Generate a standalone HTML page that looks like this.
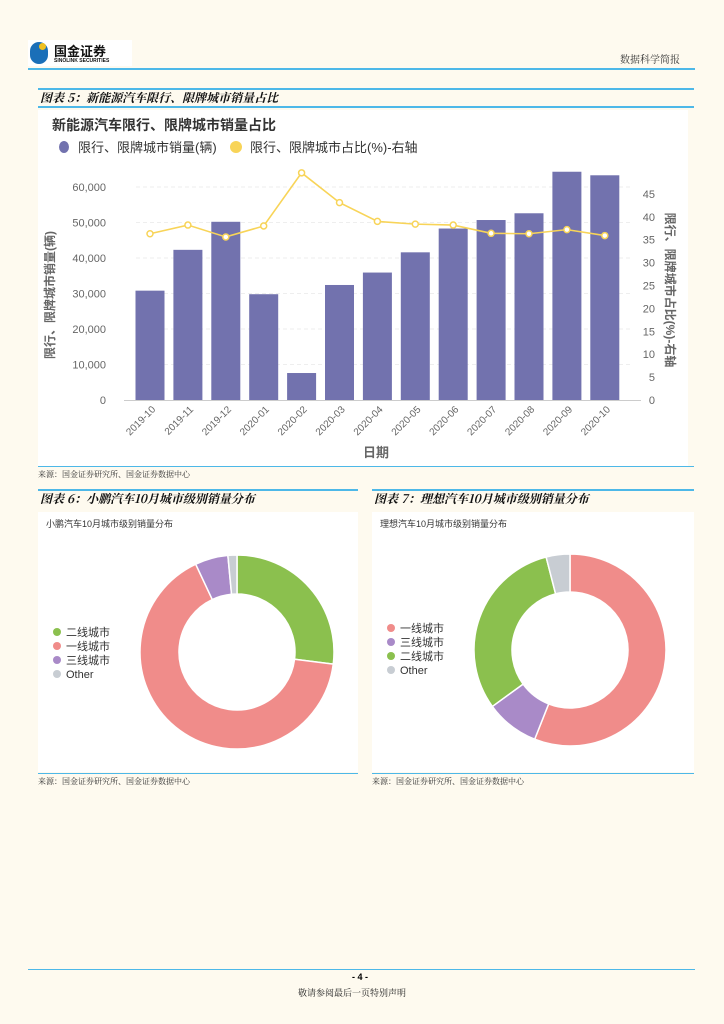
<!DOCTYPE html>
<html><head><meta charset="utf-8">
<style>
body{margin:0;background:#fefaef;font-family:"Liberation Sans","Noto Sans CJK SC",sans-serif;}
#page{position:relative;width:724px;height:1024px;overflow:hidden;background:#fefaef;}
.abs{position:absolute;}
.hl{position:absolute;height:2px;background:#4db8e8;}
.ttl{position:absolute;font-family:"Noto Serif CJK SC","Liberation Serif",serif;font-style:italic;font-weight:bold;font-size:12px;color:#111;}
.src{position:absolute;font-family:"Noto Serif CJK SC",serif;font-size:8px;color:#333;}
</style></head><body>
<div id="page">
<div class="abs" style="left:28px;top:40px;width:104px;height:26px;background:#fff;">
 <div class="abs" style="left:2px;top:2px;width:18px;height:22px;border-radius:9px;background:#1a6fb8;"></div>
 <div class="abs" style="left:11px;top:3px;width:7px;height:7px;border-radius:4px;background:#f0c020;"></div>
 <div class="abs" style="left:26px;top:1px;font-size:13px;font-weight:bold;color:#111;">国金证券</div>
 <div class="abs" style="left:26px;top:18px;font-size:5px;font-weight:bold;color:#111;">SINOLINK SECURITIES</div>
</div>
<div class="abs" style="left:620px;top:51px;font-size:10px;color:#333;font-family:'Noto Serif CJK SC',serif;">数据科学简报</div>
<div class="hl" style="left:28px;top:68px;width:667px;"></div>

<div class="hl" style="left:38px;top:88px;width:656px;"></div>
<div class="ttl" style="left:40px;top:89px;">图表 5：新能源汽车限行、限牌城市销量占比</div>
<div class="hl" style="left:38px;top:106px;width:656px;"></div>

<svg class="abs" style="left:38px;top:110px;" width="650" height="356" id="c1"></svg>
<div class="hl" style="left:38px;top:466px;width:656px;height:1px;"></div>
<div class="src" style="left:38px;top:469px;">来源：国金证券研究所、国金证券数据中心</div>

<div class="hl" style="left:38px;top:489px;width:320px;"></div>
<div class="hl" style="left:372px;top:489px;width:322px;"></div>
<div class="ttl" style="left:40px;top:490px;">图表 6：小鹏汽车10月城市级别销量分布</div>
<div class="ttl" style="left:374px;top:490px;">图表 7：理想汽车10月城市级别销量分布</div>

<svg class="abs" style="left:38px;top:512px;" width="320" height="260" id="c2"></svg>
<svg class="abs" style="left:372px;top:512px;" width="322" height="260" id="c3"></svg>
<div class="hl" style="left:38px;top:773px;width:320px;height:1px;"></div>
<div class="hl" style="left:372px;top:773px;width:322px;height:1px;"></div>
<div class="src" style="left:38px;top:776px;">来源：国金证券研究所、国金证券数据中心</div>
<div class="src" style="left:372px;top:776px;">来源：国金证券研究所、国金证券数据中心</div>

<div class="hl" style="left:28px;top:969px;width:667px;height:1px;"></div>
<div class="abs" style="left:352px;top:972px;font-size:9px;font-weight:bold;">- 4 -</div>
<div class="abs" style="left:298px;top:986px;font-size:9px;font-family:'Noto Serif CJK SC',serif;color:#222;">敬请参阅最后一页特别声明</div>
</div>
<script>
const NS="http://www.w3.org/2000/svg";
function mk(p,t,a){const e=document.createElementNS(NS,t);for(const k in a)e.setAttribute(k,a[k]);p.appendChild(e);return e;}
const categories=["2019-10","2019-11","2019-12","2020-01","2020-02","2020-03","2020-04","2020-05","2020-06","2020-07","2020-08","2020-09","2020-10"];
const salesValues=[30800,42300,50200,29800,7600,32400,35900,41600,48300,50700,52600,64300,63300];
const shareValues=[36.3,38.2,35.6,38.0,49.6,43.1,39.0,38.4,38.2,36.4,36.3,37.2,35.9];
const leftTicks=[0,10000,20000,30000,40000,50000,60000];
const leftTickLabels=["0","10,000","20,000","30,000","40,000","50,000","60,000"];
const rightTicks=[0,5,10,15,20,25,30,35,40,45];

const xpengLabels=["二线城市","一线城市","三线城市","Other"];
const xpengValues=[27,66,5.5,1.5];
const liLabels=["一线城市","三线城市","二线城市","Other"];
const liValues=[56,9,31,4];

(function(){
 const s=document.getElementById('c1');
 mk(s,'rect',{x:0,y:0,width:650,height:356,fill:'#fff'});
 const x0=98,step=37.9,base=290,ly=v=>base-v/10000*35.5,ry=v=>base-v*4.58;
 const xc=i=>x0+14+i*step;
 let t=mk(s,'text',{x:14,y:20,'font-size':14,'font-weight':'bold',fill:'#333'});t.textContent='新能源汽车限行、限牌城市销量占比';
 
 let g=mk(s,'g',{});
 mk(g,'ellipse',{cx:26,cy:37,rx:5,ry:6,fill:'#7272ae'});
 t=mk(g,'text',{x:40,y:42,'font-size':13,fill:'#333'});t.textContent='限行、限牌城市销量(辆)';
 g=mk(s,'g',{});
 mk(g,'circle',{cx:198,cy:37,r:6,fill:'#f8d458'});
 t=mk(g,'text',{x:212,y:42,'font-size':13,fill:'#333'});t.textContent='限行、限牌城市占比(%)-右轴';
 leftTicks.forEach((v,i)=>{const y=ly(v);
  if(v>0){const l=mk(s,'line',{x1:x0,x2:592,y1:y,y2:y,stroke:'#eee','stroke-dasharray':'4,3'});}
  const tt=mk(s,'text',{x:x0-30,y:y+4,'font-size':11,fill:'#666','text-anchor':'end'});tt.textContent=leftTickLabels[i];
  });
 rightTicks.forEach(v=>{const tt=mk(s,'text',{x:617,y:ry(v)+4,'font-size':11,fill:'#666','text-anchor':'end'});tt.textContent=v;
  });
 mk(s,'line',{x1:x0-12,x2:603,y1:base+0.5,y2:base+0.5,stroke:'#ccc'});
 salesValues.forEach((v,i)=>{const r=mk(s,'rect',{x:xc(i)-14.5,y:ly(v),width:29,height:base-ly(v),fill:'#7272ae'});
  
  const tt=mk(s,'text',{x:xc(i)+6,y:base+10,'font-size':10,fill:'#666','text-anchor':'end',transform:`rotate(-45 ${xc(i)+6} ${base+10})`});tt.textContent=categories[i];
  });
 const pl=mk(s,'polyline',{points:shareValues.map((v,i)=>xc(i)+','+ry(v)).join(' '),fill:'none',stroke:'#f8d458','stroke-width':1.6});
 
 shareValues.forEach((v,i)=>{const c=mk(s,'circle',{cx:xc(i),cy:ry(v),r:3,fill:'#fff',stroke:'#f8d458','stroke-width':1.5});
  });
 t=mk(s,'text',{x:338,y:347,'font-size':13,'font-weight':'bold',fill:'#666','text-anchor':'middle'});t.textContent='日期';
 
 t=mk(s,'text',{x:0,y:0,'font-size':12,'font-weight':'bold',fill:'#666','text-anchor':'middle',transform:'translate(16 185) rotate(-90)'});t.textContent='限行、限牌城市销量(辆)';
 
 t=mk(s,'text',{x:0,y:0,'font-size':12,'font-weight':'bold',fill:'#666','text-anchor':'middle',transform:'translate(628 180) rotate(90)'});t.textContent='限行、限牌城市占比(%)-右轴';
 
})();

function donut(id,title,labels,values,colors,cx,cy,R,r,legY){
 const s=document.getElementById(id);
 mk(s,'rect',{x:0,y:0,width:s.getAttribute('width'),height:260,fill:'#fff'});
 let t=mk(s,'text',{x:8,y:15,'font-size':9,fill:'#333'});t.textContent=title;
 
 const tot=values.reduce((a,b)=>a+b,0);let a=0;
 values.forEach((v,i)=>{const a1=a,a2=a+v/tot*2*Math.PI;a=a2;
  const p=(ang,rad)=>[cx+rad*Math.sin(ang),cy-rad*Math.cos(ang)];
  const L=(a2-a1)>Math.PI?1:0;const[o1x,o1y]=p(a1,R),[o2x,o2y]=p(a2,R),[i2x,i2y]=p(a2,r),[i1x,i1y]=p(a1,r);
  const e=mk(s,'path',{d:`M${o1x},${o1y}A${R},${R} 0 ${L} 1 ${o2x},${o2y}L${i2x},${i2y}A${r},${r} 0 ${L} 0 ${i1x},${i1y}Z`,fill:colors[i],stroke:'#fff','stroke-width':1.5});
  
  const g=mk(s,'g',{});
  mk(g,'circle',{cx:19,cy:legY+i*14,r:4,fill:colors[i]});
  const tt=mk(g,'text',{x:28,y:legY+i*14+4,'font-size':11,fill:'#333'});tt.textContent=labels[i];});
}
const cmap={"一线城市":"#f08c8a","二线城市":"#8bc04e","三线城市":"#a98ac8","Other":"#c8cdd3"};
donut('c2','小鹏汽车10月城市级别销量分布',xpengLabels,xpengValues,xpengLabels.map(l=>cmap[l]),199,140,97,58,120);
donut('c3','理想汽车10月城市级别销量分布',liLabels,liValues,liLabels.map(l=>cmap[l]),198,138,96,58,116);
</script>
</body></html>
